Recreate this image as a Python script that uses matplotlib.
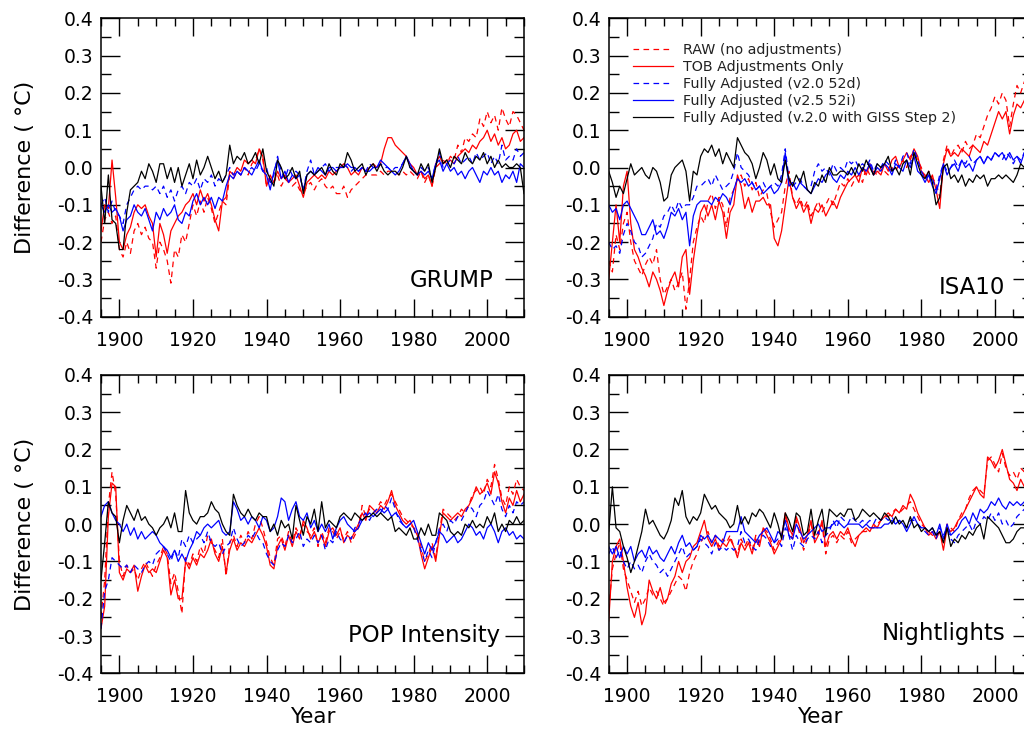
import numpy as np
import matplotlib
matplotlib.use("Agg")
import matplotlib.pyplot as plt
from matplotlib.ticker import MultipleLocator, FormatStrFormatter
from matplotlib.lines import Line2D

plt.rcParams['font.family'] = ['DejaVu Sans']
plt.rcParams['axes.unicode_minus'] = False

years = np.arange(1895, 2011)

series_labels = ["RAW (no adjustments)", "TOB Adjustments Only",
                 "Fully Adjusted (v2.0 52d)", "Fully Adjusted (v2.5 52i)",
                 "Fully Adjusted (v.2.0 with GISS Step 2)"]
panel_names = ["GRUMP", "ISA10", "POP Intensity", "Nightlights"]

# ---------------- GRUMP ----------------
grump_raw = [-0.20, -0.14, -0.12, -0.15, -0.13,
             -0.22, -0.24, -0.20, -0.23, -0.17, -0.15, -0.18, -0.16, -0.19, -0.20,
             -0.27, -0.20, -0.22, -0.25, -0.31, -0.22, -0.24, -0.18, -0.20, -0.15,
             -0.10, -0.13, -0.09, -0.12, -0.08, -0.11, -0.15, -0.12, -0.09, -0.10,
             -0.02, -0.03, -0.01, -0.02, 0.00, -0.02, 0.01, 0.02, 0.05, 0.02,
             -0.05, -0.03, -0.04, -0.02, -0.05, -0.03, -0.04, -0.05, -0.04, -0.06,
             -0.07, -0.05, -0.04, -0.06, -0.04, -0.03, -0.05, -0.06, -0.05, -0.07,
             -0.07, -0.05, -0.08, -0.06, -0.05, -0.04, -0.03, -0.02, -0.02, -0.02,
             -0.02, -0.01, -0.02, -0.01, -0.01, -0.01, -0.02, -0.01, -0.02, -0.01,
             -0.02, -0.03, -0.01, -0.04, -0.02, -0.05, 0.00, 0.01, 0.02, 0.01,
             0.03, 0.02, 0.06, 0.04, 0.08, 0.07, 0.09, 0.08, 0.13, 0.11,
             0.15, 0.12, 0.14, 0.10, 0.16, 0.13, 0.11, 0.15, 0.14, 0.12, 0.10]
grump_tob = [-0.17, -0.10, -0.11, 0.02, -0.08,
             -0.20, -0.22, -0.18, -0.16, -0.12, -0.10, -0.11, -0.10, -0.13, -0.15,
             -0.24, -0.15, -0.18, -0.23, -0.17, -0.15, -0.13, -0.12, -0.10, -0.09,
             -0.07, -0.10, -0.06, -0.09, -0.07, -0.10, -0.14, -0.17, -0.09, -0.08,
             -0.01, -0.02, 0.00, -0.01, 0.02, 0.01, 0.02, 0.01, 0.05, 0.03,
             -0.05, -0.02, -0.04, -0.01, -0.03, -0.02, -0.04, -0.03, -0.02, -0.05,
             -0.08, -0.04, -0.03, -0.02, -0.03, -0.02, -0.03, -0.01, -0.02, -0.01,
             0.00, 0.01, 0.00, -0.02, -0.01, -0.02, 0.00, -0.01, 0.00, 0.01,
             0.00, 0.01, 0.05, 0.08, 0.08, 0.06, 0.05, 0.04, 0.03, 0.01,
             0.00, -0.02, -0.01, -0.03, -0.02, -0.05, 0.01, 0.03, 0.01, 0.02,
             0.02, 0.01, 0.03, 0.04, 0.05, 0.04, 0.06, 0.05, 0.07, 0.08,
             0.10, 0.07, 0.09, 0.06, 0.08, 0.05, 0.06, 0.09, 0.10, 0.07, 0.08]
grump_v20 = [-0.10, -0.08, -0.12, -0.09, -0.12,
             -0.13, -0.15, -0.10, -0.08, -0.06, -0.05, -0.06, -0.05, -0.05, -0.06,
             -0.05, -0.07, -0.05, -0.08, -0.06, -0.09, -0.06, -0.05, -0.07, -0.04,
             -0.05, -0.03, -0.06, -0.03, -0.04, -0.02, -0.05, -0.03, -0.04, -0.02,
             0.00, -0.02, -0.01, -0.02, 0.00, -0.01, 0.00, -0.01, 0.01, -0.01,
             0.00, -0.04, -0.02, 0.03, -0.01, -0.03, 0.00, -0.02, -0.01, -0.02,
             -0.06, -0.01, 0.02, -0.02, -0.01, 0.00, 0.01, -0.01, 0.00, 0.00,
             0.00, 0.01, 0.00, -0.01, 0.00, -0.01, 0.00, -0.01, 0.01, 0.00,
             0.00, 0.01, 0.00, 0.00, -0.01, 0.00, 0.00, 0.01, 0.03, 0.00,
             -0.01, -0.02, 0.00, -0.01, 0.00, -0.03, 0.01, 0.04, 0.00, 0.01,
             0.02, 0.01, 0.03, 0.01, 0.02, 0.03, 0.01, 0.04, 0.02, 0.03,
             0.04, 0.01, 0.03, 0.01, 0.06, 0.02, 0.03, 0.02, 0.05, 0.03, 0.04]
grump_v25 = [-0.10, -0.12, -0.10, -0.12, -0.11,
             -0.13, -0.17, -0.14, -0.13, -0.10, -0.12, -0.13, -0.11, -0.14, -0.17,
             -0.12, -0.14, -0.11, -0.13, -0.12, -0.10, -0.14, -0.15, -0.12, -0.13,
             -0.09, -0.07, -0.10, -0.08, -0.10, -0.08, -0.11, -0.08, -0.09, -0.05,
             -0.02, -0.03, -0.01, -0.02, 0.00, -0.01, -0.02, 0.00, 0.02, -0.01,
             -0.02, -0.06, -0.01, 0.02, -0.03, -0.01, -0.04, -0.02, -0.03, -0.02,
             -0.06, -0.02, -0.01, -0.02, 0.00, -0.01, -0.02, 0.00, 0.00, -0.01,
             0.00, 0.00, 0.01, 0.00, 0.00, -0.01, 0.00, -0.01, -0.01, 0.00,
             0.00, 0.02, 0.01, 0.00, -0.01, -0.02, -0.01, 0.01, 0.03, 0.01,
             -0.01, -0.02, -0.01, -0.02, -0.01, -0.03, 0.01, 0.02, -0.01, 0.01,
             -0.01, 0.00, -0.02, -0.01, -0.03, -0.01, 0.00, -0.02, -0.04, -0.01,
             -0.02, 0.00, -0.02, -0.01, -0.04, -0.02, -0.03, -0.01, -0.04, 0.01, 0.00]
grump_giss = [-0.05, -0.15, -0.02, -0.14, -0.15,
              -0.22, -0.22, -0.12, -0.06, -0.05, -0.04, -0.01, -0.03, 0.01, -0.01,
              -0.04, 0.01, 0.01, -0.03, 0.00, -0.04, 0.00, -0.05, -0.02, 0.01,
              -0.03, 0.02, -0.02, 0.00, 0.03, 0.00, -0.03, -0.01, -0.04, -0.02,
              0.06, 0.01, 0.03, 0.02, 0.04, 0.01, 0.02, 0.04, 0.01, 0.05,
              -0.01, -0.03, -0.05, 0.02, 0.00, -0.03, -0.02, 0.00, -0.03, -0.01,
              -0.07, -0.02, -0.01, -0.02, -0.01, 0.00, -0.02, 0.01, -0.01, -0.02,
              0.01, 0.00, 0.04, 0.02, -0.01, 0.00, 0.01, -0.02, 0.00, 0.01,
              -0.01, 0.01, -0.01, -0.02, -0.01, -0.01, -0.02, 0.00, 0.03, 0.00,
              -0.01, -0.02, 0.01, -0.01, 0.01, -0.04, 0.00, 0.05, 0.01, 0.02,
              0.00, 0.03, 0.02, 0.01, 0.04, 0.02, 0.01, 0.03, 0.02, 0.04,
              0.01, 0.03, 0.00, 0.02, 0.00, 0.01, 0.00, 0.00, 0.01, 0.00, -0.07]

# ---------------- ISA10 ----------------
isa_raw = [-0.25, -0.28, -0.18, -0.22, -0.15,
           -0.12, -0.20, -0.25, -0.27, -0.29, -0.26, -0.24, -0.26, -0.22, -0.30,
           -0.34, -0.32, -0.30, -0.33, -0.31, -0.28, -0.38, -0.30, -0.20, -0.16,
           -0.13, -0.15, -0.09, -0.07, -0.11, -0.08, -0.10, -0.16, -0.08, -0.06,
           -0.03, -0.02, -0.05, -0.03, -0.06, -0.04, -0.08, -0.06, -0.07, -0.12,
           -0.16, -0.14, -0.12, -0.05, -0.01, -0.08, -0.10, -0.08, -0.11, -0.09,
           -0.13, -0.11, -0.09, -0.12, -0.10, -0.08, -0.10, -0.07, -0.04, -0.05,
           -0.03, -0.05, -0.03, -0.02, -0.04, 0.00, -0.02, -0.01, -0.02, 0.00,
           -0.01, -0.02, 0.00, -0.01, 0.01, 0.02, 0.00, 0.03, 0.04, 0.02,
           0.00, -0.03, -0.01, -0.03, -0.04, -0.08, 0.02, 0.06, 0.03, 0.05,
           0.06, 0.04, 0.07, 0.05, 0.06, 0.09, 0.08, 0.11, 0.14, 0.16,
           0.19, 0.17, 0.20, 0.18, 0.11, 0.17, 0.22, 0.20, 0.23, 0.24, 0.25]
isa_tob = [-0.30, -0.20, -0.10, -0.20, -0.05,
           -0.01, -0.15, -0.22, -0.24, -0.27, -0.29, -0.32, -0.28, -0.30, -0.33,
           -0.37, -0.33, -0.30, -0.28, -0.32, -0.24, -0.22, -0.34, -0.25, -0.18,
           -0.12, -0.10, -0.13, -0.10, -0.14, -0.09, -0.12, -0.19, -0.12, -0.10,
           -0.02, -0.05, -0.11, -0.08, -0.12, -0.09, -0.09, -0.08, -0.10, -0.10,
           -0.19, -0.21, -0.17, -0.10, -0.03, -0.08, -0.11, -0.09, -0.12, -0.10,
           -0.15, -0.11, -0.12, -0.10, -0.13, -0.11, -0.09, -0.11, -0.08, -0.06,
           -0.04, -0.03, -0.02, -0.04, 0.00, -0.02, 0.01, -0.02, -0.01, -0.02,
           0.01, -0.01, 0.02, 0.03, 0.00, 0.02, 0.04, 0.02, 0.05, 0.03,
           -0.01, -0.02, -0.04, -0.02, -0.06, -0.11, 0.01, 0.05, 0.03, 0.04,
           0.03, 0.05, 0.04, 0.03, 0.06, 0.05, 0.04, 0.07, 0.06, 0.09,
           0.12, 0.15, 0.13, 0.15, 0.09, 0.14, 0.17, 0.16, 0.18, 0.21, 0.22]
isa_v20 = [-0.20, -0.22, -0.21, -0.23, -0.18,
           -0.15, -0.17, -0.20, -0.21, -0.24, -0.23, -0.21, -0.19, -0.15, -0.16,
           -0.13, -0.12, -0.10, -0.12, -0.09, -0.11, -0.10, -0.10, -0.08, -0.05,
           -0.05, -0.04, -0.03, -0.05, -0.02, -0.04, -0.06, -0.05, -0.04, -0.01,
           0.04, 0.00, -0.01, -0.02, -0.04, -0.06, -0.05, -0.04, -0.06, -0.05,
           -0.04, -0.05, -0.02, 0.05, -0.03, -0.05, -0.04, -0.03, -0.05, -0.06,
           -0.05, -0.01, 0.01, -0.01, 0.00, -0.02, 0.01, -0.01, 0.00, -0.01,
           0.02, 0.01, 0.02, 0.00, 0.01, 0.00, 0.02, -0.01, 0.01, 0.00,
           0.02, 0.01, -0.01, 0.02, 0.00, 0.03, 0.04, 0.01, 0.05, 0.02,
           -0.01, -0.03, -0.02, -0.03, -0.06, -0.02, 0.01, -0.01, 0.00, 0.02,
           0.00, 0.02, 0.01, 0.03, 0.01, 0.02, 0.03, 0.01, 0.03, 0.02,
           0.04, 0.03, 0.02, 0.04, 0.03, 0.01, 0.03, 0.02, 0.04, 0.05, 0.04]
isa_v25 = [-0.10, -0.12, -0.11, -0.14, -0.10,
           -0.09, -0.11, -0.13, -0.15, -0.18, -0.18, -0.16, -0.14, -0.18, -0.17,
           -0.19, -0.16, -0.12, -0.13, -0.11, -0.14, -0.12, -0.21, -0.13, -0.10,
           -0.09, -0.09, -0.09, -0.10, -0.08, -0.09, -0.07, -0.08, -0.10, -0.06,
           -0.03, -0.04, -0.03, -0.05, -0.04, -0.06, -0.05, -0.07, -0.06, -0.05,
           -0.07, -0.06, -0.04, 0.04, -0.05, -0.04, -0.06, -0.04, -0.05, -0.06,
           -0.07, -0.05, -0.03, -0.04, -0.02, -0.01, -0.03, -0.04, -0.02, -0.03,
           -0.01, -0.02, 0.00, -0.02, 0.00, -0.01, 0.01, -0.02, 0.00, -0.01,
           0.01, 0.00, -0.02, 0.01, 0.00, -0.01, 0.02, 0.00, 0.03, -0.01,
           -0.02, -0.04, -0.02, -0.05, -0.07, -0.03, 0.01, -0.02, 0.00, 0.01,
           -0.01, 0.02, 0.00, 0.01, -0.01, 0.02, 0.03, 0.01, 0.03, 0.02,
           0.04, 0.03, 0.04, 0.02, 0.04, 0.02, 0.03, 0.01, 0.04, 0.05, 0.04]
isa_giss = [-0.01, -0.04, -0.08, -0.05, -0.07,
            -0.03, 0.01, -0.02, -0.01, 0.00, -0.02, -0.03, 0.00, -0.01, -0.04,
            -0.09, -0.08, -0.02, 0.00, 0.01, 0.02, -0.01, -0.09, -0.01, -0.02,
            0.03, 0.05, 0.04, 0.06, 0.03, 0.05, 0.01, 0.04, 0.02, 0.00,
            0.08, 0.06, 0.04, 0.03, 0.01, -0.03, 0.00, 0.04, 0.02, -0.02,
            0.01, -0.03, -0.04, 0.02, -0.03, -0.05, -0.02, -0.04, -0.01, -0.06,
            -0.07, -0.04, -0.05, -0.02, -0.04, 0.00, -0.02, -0.02, -0.01, -0.01,
            -0.02, 0.00, -0.02, 0.01, -0.01, 0.02, 0.00, -0.02, 0.01, 0.00,
            0.01, 0.03, -0.01, 0.00, -0.02, 0.01, 0.02, -0.02, 0.04, 0.01,
            -0.02, -0.03, -0.01, -0.04, -0.10, -0.08, 0.00, 0.01, -0.03, -0.02,
            -0.04, -0.02, -0.05, -0.03, -0.04, -0.02, -0.03, -0.02, -0.05, -0.03,
            -0.03, -0.02, -0.03, -0.02, -0.03, -0.04, -0.02, 0.01, 0.00, 0.03, 0.02]

# ---------------- POP Intensity ----------------
pop_raw = [-0.25, -0.15, 0.05, 0.14, 0.08,
           -0.10, -0.14, -0.11, -0.13, -0.12, -0.15, -0.12, -0.10, -0.12, -0.14,
           -0.11, -0.09, -0.06, -0.08, -0.16, -0.13, -0.18, -0.24, -0.09, -0.11,
           -0.08, -0.10, -0.06, -0.08, -0.03, -0.05, -0.07, -0.09, -0.04, -0.14,
           -0.05, -0.03, -0.06, -0.03, -0.05, -0.02, -0.04, 0.00, 0.02, -0.01,
           -0.05, -0.09, -0.11, -0.04, -0.03, -0.06, -0.02, -0.05, -0.01, -0.03,
           0.00, -0.02, -0.03, -0.01, -0.06, -0.02, -0.05, -0.01, -0.02, -0.04,
           -0.02, -0.04, -0.02, -0.05, -0.03, -0.01, 0.05, 0.02, 0.04, 0.03,
           0.04, 0.06, 0.05, 0.07, 0.08, 0.06, 0.04, 0.02, 0.01, 0.00,
           -0.01, -0.02, -0.06, -0.10, -0.08, -0.05, -0.09, -0.02, 0.04, 0.03,
           0.02, 0.01, 0.02, 0.04, 0.03, 0.05, 0.08, 0.09, 0.10, 0.08,
           0.12, 0.10, 0.16, 0.12, 0.07, 0.05, 0.10, 0.08, 0.12, 0.10, 0.09]
pop_tob = [-0.28, -0.22, 0.02, 0.11, 0.10,
           -0.13, -0.15, -0.12, -0.13, -0.11, -0.18, -0.14, -0.11, -0.13, -0.12,
           -0.13, -0.10, -0.07, -0.09, -0.19, -0.15, -0.20, -0.20, -0.10, -0.12,
           -0.09, -0.11, -0.08, -0.09, -0.07, -0.04, -0.08, -0.10, -0.06, -0.13,
           -0.07, -0.04, -0.07, -0.05, -0.06, -0.04, -0.05, -0.03, -0.01, -0.03,
           -0.06, -0.11, -0.12, -0.06, -0.04, -0.07, -0.03, -0.06, -0.02, -0.04,
           0.01, -0.01, -0.04, -0.02, -0.05, -0.03, -0.06, -0.02, -0.01, -0.03,
           -0.01, -0.05, -0.03, -0.04, -0.02, 0.00, 0.03, 0.01, 0.05, 0.04,
           0.03, 0.05, 0.04, 0.06, 0.09, 0.05, 0.03, 0.01, 0.00, 0.01,
           -0.01, -0.03, -0.08, -0.12, -0.09, -0.06, -0.10, -0.03, 0.03, 0.02,
           0.01, 0.02, 0.03, 0.02, 0.04, 0.05, 0.07, 0.10, 0.08, 0.09,
           0.11, 0.08, 0.14, 0.11, 0.06, 0.03, 0.07, 0.05, 0.09, 0.06, 0.08]
pop_v20 = [-0.28, -0.18, -0.15, -0.09, -0.10,
           -0.11, -0.12, -0.11, -0.13, -0.11, -0.12, -0.13, -0.11, -0.10, -0.11,
           -0.08, -0.07, -0.06, -0.08, -0.10, -0.07, -0.09, -0.04, -0.06, -0.03,
           -0.05, -0.04, -0.03, -0.05, -0.02, -0.05, -0.06, -0.05, -0.08, -0.06,
           -0.05, -0.01, -0.04, -0.06, -0.05, -0.03, -0.04, -0.02, -0.04, -0.05,
           -0.08, -0.10, -0.11, -0.07, -0.05, -0.06, -0.03, -0.05, -0.04, -0.02,
           -0.06, -0.04, -0.05, -0.03, -0.05, -0.03, -0.07, -0.04, -0.05, -0.02,
           -0.04, -0.05, -0.03, -0.04, -0.01, 0.00, 0.02, 0.03, 0.01, 0.03,
           0.04, 0.03, 0.05, 0.04, 0.07, 0.04, 0.01, 0.00, -0.01, 0.00,
           -0.01, -0.04, -0.07, -0.10, -0.07, -0.09, -0.05, -0.01, 0.00, -0.02,
           0.01, 0.00, 0.02, 0.01, 0.03, 0.05, 0.04, 0.02, 0.05, 0.06,
           0.09, 0.07, 0.05, 0.08, 0.04, 0.02, 0.05, 0.03, 0.06, 0.05, 0.06]
pop_v25 = [0.02, 0.05, 0.06, 0.03, 0.01,
           0.00, -0.02, 0.00, -0.03, -0.01, -0.04, -0.02, -0.04, -0.03, -0.02,
           -0.03, -0.05, -0.06, -0.07, -0.09, -0.07, -0.10, -0.08, -0.10, -0.07,
           -0.05, -0.02, -0.03, -0.01, 0.00, -0.01, 0.00, 0.01, -0.02, -0.03,
           -0.02, 0.06, 0.04, 0.01, 0.02, 0.00, 0.02, 0.01, -0.01, 0.02,
           0.01, -0.02, -0.01, 0.02, 0.07, 0.06, 0.01, 0.04, 0.06, 0.02,
           0.01, 0.03, -0.01, 0.01, -0.02, 0.00, -0.02, 0.00, -0.04, -0.01,
           0.01, 0.02, 0.00, -0.01, -0.02, -0.01, 0.01, 0.02, 0.03, 0.02,
           0.03, 0.04, 0.03, 0.04, 0.02, 0.03, 0.02, 0.00, -0.01, 0.00,
           0.01, -0.02, -0.05, -0.08, -0.05, -0.07, -0.05, -0.02, -0.03, -0.05,
           -0.04, -0.03, -0.05, -0.04, -0.02, 0.00, -0.01, -0.03, -0.02, -0.04,
           -0.01, 0.00, -0.02, -0.05, -0.02, -0.01, -0.03, -0.02, -0.04, -0.03, -0.04]
pop_giss = [-0.15, -0.05, 0.06, 0.03, 0.02,
            -0.05, 0.01, 0.05, 0.03, 0.01, 0.04, 0.01, 0.02, 0.00, -0.01,
            -0.03, -0.01, 0.00, 0.02, -0.01, 0.03, -0.02, -0.02, 0.09, 0.03,
            0.01, 0.00, 0.02, 0.02, 0.03, 0.06, 0.04, 0.03, 0.00, -0.02,
            -0.03, 0.08, 0.05, 0.03, 0.02, 0.04, 0.02, 0.01, 0.03, 0.02,
            0.02, -0.02, 0.00, -0.03, 0.01, -0.01, 0.00, -0.04, 0.05, 0.01,
            -0.03, 0.02, 0.00, 0.04, -0.02, 0.06, -0.01, 0.01, 0.00, -0.01,
            0.02, 0.03, 0.02, 0.01, 0.03, 0.02, 0.01, 0.02, 0.02, 0.03,
            0.02, 0.03, 0.02, 0.01, 0.02, -0.02, -0.01, -0.02, -0.03, -0.01,
            -0.04, -0.04, -0.01, -0.03, 0.00, -0.03, -0.03, 0.03, 0.02, 0.01,
            -0.02, -0.03, -0.02, -0.03, 0.00, -0.01, 0.01, -0.01, 0.00, -0.01,
            0.02, 0.00, 0.03, -0.02, 0.00, -0.02, 0.01, 0.00, 0.02, 0.00, 0.01]

# ---------------- Nightlights ----------------
nl_raw = [-0.23, -0.12, -0.08, -0.05, -0.12,
          -0.15, -0.18, -0.21, -0.18, -0.22, -0.20, -0.17, -0.19, -0.18, -0.20,
          -0.22, -0.20, -0.18, -0.16, -0.14, -0.15, -0.18, -0.13, -0.10, -0.08,
          -0.05, -0.03, -0.02, -0.05, -0.03, -0.06, -0.04, -0.05, -0.03, -0.06,
          -0.08, -0.04, -0.06, -0.04, -0.07, -0.03, -0.05, -0.01, -0.02, -0.04,
          -0.07, -0.05, -0.03, 0.02, -0.02, -0.04, 0.01, -0.03, -0.07, -0.04,
          0.00, -0.04, -0.02, 0.00, -0.08, -0.04, -0.03, -0.05, -0.03, -0.04,
          -0.02, -0.05, -0.04, -0.03, -0.02, -0.02, -0.01, -0.01, 0.00, 0.01,
          0.02, 0.02, 0.03, 0.04, 0.03, 0.04, 0.05, 0.06, 0.04, 0.02,
          0.00, -0.01, -0.02, -0.03, -0.03, -0.02, -0.05, 0.00, -0.01, -0.02,
          0.01, 0.03, 0.04, 0.07, 0.09, 0.10, 0.09, 0.08, 0.17, 0.18,
          0.16, 0.14, 0.19, 0.15, 0.13, 0.14, 0.12, 0.15, 0.14, 0.16, 0.18]
nl_tob = [-0.26, -0.10, -0.06, -0.04, -0.10,
          -0.17, -0.22, -0.25, -0.21, -0.27, -0.24, -0.15, -0.18, -0.20, -0.17,
          -0.21, -0.20, -0.16, -0.14, -0.10, -0.13, -0.10, -0.09, -0.06, -0.05,
          -0.02, 0.01, -0.04, -0.06, -0.04, -0.07, -0.05, -0.06, -0.04, -0.06,
          -0.09, -0.05, -0.07, -0.05, -0.08, -0.04, -0.06, -0.01, -0.03, -0.05,
          -0.08, -0.06, -0.04, 0.03, -0.01, -0.03, 0.02, -0.01, -0.05, -0.03,
          0.01, -0.05, -0.03, 0.01, -0.06, -0.03, -0.02, -0.04, -0.02, -0.03,
          -0.01, -0.04, -0.06, -0.03, -0.02, -0.01, -0.02, 0.00, -0.01, 0.01,
          0.02, 0.03, 0.02, 0.04, 0.03, 0.05, 0.04, 0.08, 0.06, 0.03,
          0.01, -0.01, -0.03, -0.02, -0.04, -0.02, -0.07, -0.01, -0.02, -0.01,
          0.01, 0.02, 0.04, 0.06, 0.08, 0.10, 0.08, 0.07, 0.18, 0.17,
          0.15, 0.17, 0.20, 0.16, 0.12, 0.11, 0.09, 0.12, 0.10, 0.13, 0.15]
nl_v20 = [-0.08, -0.06, -0.09, -0.07, -0.10,
          -0.12, -0.10, -0.12, -0.11, -0.13, -0.10, -0.08, -0.10, -0.11, -0.13,
          -0.12, -0.14, -0.12, -0.10, -0.08, -0.06, -0.09, -0.08, -0.07, -0.06,
          -0.04, -0.05, -0.06, -0.08, -0.05, -0.07, -0.06, -0.07, -0.06, -0.07,
          -0.06, -0.02, -0.05, -0.04, -0.06, -0.07, -0.04, -0.03, -0.04, -0.06,
          -0.05, -0.04, -0.06, -0.01, -0.03, -0.07, -0.03, -0.05, -0.06, -0.04,
          -0.03, -0.04, -0.02, -0.05, -0.03, -0.02, 0.01, -0.01, 0.02, 0.01,
          0.00, 0.02, 0.01, 0.00, 0.01, 0.00, 0.01, 0.00, 0.02, 0.01,
          0.02, 0.01, 0.02, 0.00, 0.01, 0.00, -0.01, 0.01, 0.01, 0.00,
          -0.01, -0.02, -0.03, -0.02, -0.04, -0.01, -0.03, -0.01, -0.04, -0.05,
          -0.03, -0.02, -0.01, 0.00, -0.02, 0.01, 0.00, 0.02, 0.01, 0.03,
          0.01, 0.03, 0.00, 0.01, -0.01, 0.00, 0.02, 0.03, 0.04, 0.05, 0.07]
nl_v25 = [-0.06, -0.08, -0.06, -0.09, -0.06,
          -0.08, -0.06, -0.10, -0.08, -0.07, -0.09, -0.06, -0.08, -0.07, -0.09,
          -0.10, -0.08, -0.06, -0.08, -0.05, -0.03, -0.06, -0.05, -0.07, -0.06,
          -0.03, -0.04, -0.03, -0.05, -0.03, -0.04, -0.05, -0.02, -0.02, -0.02,
          -0.02, 0.02, -0.02, -0.03, -0.04, -0.05, -0.03, -0.02, -0.01, -0.03,
          -0.05, -0.02, -0.03, 0.01, -0.03, -0.04, 0.00, -0.02, -0.04, -0.03,
          -0.02, -0.01, 0.00, -0.02, -0.01, -0.01, 0.00, 0.01, 0.00, -0.01,
          0.00, 0.00, 0.00, 0.00, -0.01, 0.00, -0.01, -0.01, -0.01, -0.01,
          0.00, 0.00, 0.01, 0.00, 0.01, 0.00, -0.02, 0.00, 0.02, 0.00,
          -0.01, -0.01, -0.02, -0.01, -0.03, 0.00, -0.04, 0.00, -0.03, -0.02,
          -0.01, 0.01, 0.02, 0.00, 0.03, 0.01, 0.04, 0.03, 0.04, 0.06,
          0.05, 0.07, 0.05, 0.04, 0.06, 0.05, 0.06, 0.05, 0.06, 0.05, 0.08]
nl_giss = [-0.02, 0.10, -0.01, -0.02, -0.06,
           -0.09, -0.13, -0.10, -0.06, -0.02, 0.04, 0.00, 0.01, -0.01, -0.03,
           -0.04, -0.02, 0.01, 0.07, 0.05, 0.09, 0.02, 0.00, 0.02, 0.01,
           0.03, 0.08, 0.06, 0.04, 0.05, 0.03, 0.02, 0.01, -0.01, 0.00,
           0.05, 0.00, 0.02, 0.00, 0.03, 0.02, 0.04, 0.03, 0.01, -0.01,
           0.03, 0.00, -0.04, 0.03, 0.01, -0.02, 0.03, 0.02, -0.03, -0.02,
           0.04, -0.03, 0.01, 0.04, -0.03, 0.04, 0.03, 0.02, 0.03, 0.02,
           0.04, 0.04, 0.01, 0.02, 0.04, 0.03, 0.02, 0.03, 0.02, 0.01,
           0.03, 0.02, 0.00, 0.02, 0.00, 0.01, -0.01, 0.02, -0.01, 0.00,
           -0.02, -0.01, -0.02, -0.01, -0.03, -0.02, -0.05, -0.01, -0.06, -0.04,
           -0.05, -0.03, -0.04, -0.02, -0.03, -0.01, 0.00, -0.04, 0.02, 0.01,
           0.00, -0.01, -0.03, -0.05, -0.05, -0.04, -0.02, -0.01, -0.01, 0.00, 0.01]

panels = [
    (grump_raw, grump_tob, grump_v20, grump_v25, grump_giss),
    (isa_raw, isa_tob, isa_v20, isa_v25, isa_giss),
    (pop_raw, pop_tob, pop_v20, pop_v25, pop_giss),
    (nl_raw, nl_tob, nl_v20, nl_v25, nl_giss),
]

colors = ['#ff0000', '#ff0000', '#0000ff', '#0000ff', '#000000']
dash = (0, (4.5, 3.5))
styles = [dash, '-', dash, '-', '-']

W, H = 1024, 731
fig = plt.figure(figsize=(W / 100, H / 100), dpi=100)

ax_w = 423 / W
ax_h = 298.4 / H
lefts = [101 / W, 608.7 / W]
bottoms = [1 - 316.7 / H, 1 - 673.3 / H]
label_pos = [(0.927, 0.100), (0.9376, 0.076), (0.943, 0.106), (0.9376, 0.112)]

for i, (name, data) in enumerate(zip(panel_names, panels)):
    r, c = divmod(i, 2)
    ax = fig.add_axes([lefts[c], bottoms[r], ax_w, ax_h])
    for vals, col, ls in zip(data, colors, styles):
        ax.plot(years, vals, color=col, linestyle=ls, lw=0.9)
    ax.set_xlim(1895, 2010)
    ax.set_ylim(-0.4, 0.4)
    ax.xaxis.set_major_locator(MultipleLocator(20))
    ax.xaxis.set_minor_locator(MultipleLocator(5))
    ax.yaxis.set_major_locator(MultipleLocator(0.1))
    ax.yaxis.set_minor_locator(MultipleLocator(0.05))
    ax.yaxis.set_major_formatter(FormatStrFormatter('%.1f'))
    ax.tick_params(which='both', direction='in', top=True, right=True,
                   width=1.0, labelsize=13.5)
    ax.tick_params(axis='y', which='major', length=13.5, pad=5.5)
    ax.tick_params(axis='y', which='minor', length=7)
    ax.tick_params(axis='x', which='major', length=13, pad=10)
    ax.tick_params(axis='x', which='minor', length=6)
    for sp in ax.spines.values():
        sp.set_linewidth(1.1)
    if c == 0:
        ax.set_ylabel('Difference ( °C)', fontsize=16)
        ax.yaxis.set_label_coords(-0.155, 0.5)
    if r == 1:
        ax.set_xlabel('Year', fontsize=15.5)
        ax.xaxis.set_label_coords(0.5, -0.113)
    lx, ly = label_pos[i]
    ax.text(lx, ly, name, transform=ax.transAxes, ha='right', va='baseline',
            fontsize=16.5)
    if i == 1:
        handles = [Line2D([], [], color=col, linestyle=ls, lw=0.9)
                   for col, ls in zip(colors, styles)]
        ax.legend(handles, series_labels, loc='upper left',
                  bbox_to_anchor=(0.0574, 0.918), frameon=False, fontsize=10.3,
                  handlelength=2.8, handletextpad=0.7, labelspacing=0.22,
                  borderpad=0, borderaxespad=0, labelcolor='#222222')

fig.savefig('out.png', dpi=100)
